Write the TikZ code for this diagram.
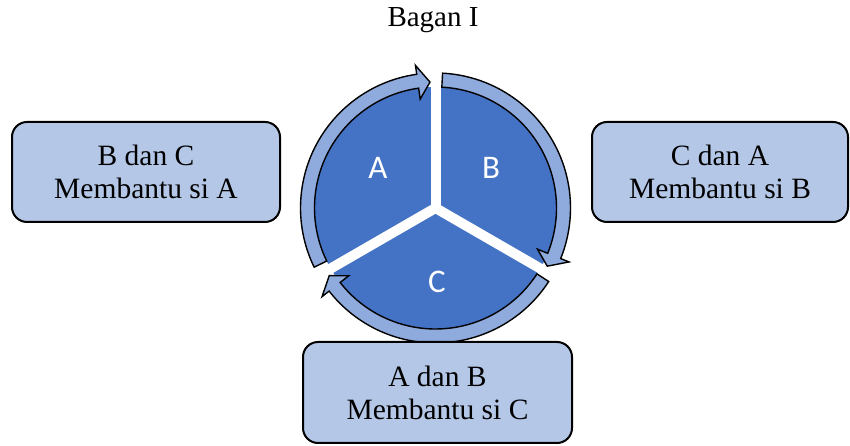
\documentclass[tikz,border=0pt]{standalone}
\usepackage{fontspec}
\setmainfont{Liberation Serif}
\newfontfamily\calibri{Carlito}
\usetikzlibrary{calc}
\definecolor{pieblue}{HTML}{4472C4}
\definecolor{ringblue}{HTML}{8FAADC}
\definecolor{boxblue}{HTML}{B4C7E7}
\def\ringarrow(#1:#2:#3){\draw[line width=1.4pt, fill=ringblue, line join=miter] ($(O)+(#1:135)$) arc (#1:#2:135) -- ($(O)+(#2:144)$) -- ($(O)+(#3:126)$) -- ($(O)+(#2:110)$) -- ($(O)+(#2:121)$) arc (#2:#1:121) -- cycle;}
\tikzset{
	helper/.style={draw, line width=2pt, fill=boxblue, rounded corners=15pt, align=center,
		font=\fontsize{29.5}{33}\selectfont, inner sep=0pt},
	piece/.style={text=white, font=\calibri\fontsize{33}{36}\selectfont}
}
\begin{document}
\begin{tikzpicture}[x=1pt, y=1pt]
			%%%%% START %%%%%
			\useasboundingbox (0, 0) rectangle (850, 446);
			
			\node[font=\fontsize{29}{33}\selectfont, anchor=base] (title) at (433, 419) {Bagan I};
			
			\coordinate (O) at (435.5, 238);
			\fill[pieblue] (O) circle (121);
			\draw[white, line width=10pt] (O) -- ++(90:126);
			\draw[white, line width=10pt] (O) -- ++(210:126);
			\draw[white, line width=10pt] (O) -- ++(330:126);
			
			\ringarrow(206:98:92.5)
			\ringarrow(87:-22:-27.5)
			\ringarrow(-33:-142:-147.5)
			
			\node[piece] (pieA) at (378, 278) {A};
			\node[piece] (pieB) at (491, 278) {B};
			\node[piece] (pieC) at (437, 164) {C};
			
			\node[helper, minimum width=268, minimum height=100] (helpA) at (146, 274) {B dan C\\Membantu si A};
			\node[helper, minimum width=256, minimum height=100] (helpB) at (720, 274) {C dan A\\Membantu si B};
			\node[helper, minimum width=269, minimum height=101] (helpC) at (437.5, 53.5) {A dan B\\Membantu si C};
			
			%%%%% END %%%%%
\end{tikzpicture}
\end{document}
